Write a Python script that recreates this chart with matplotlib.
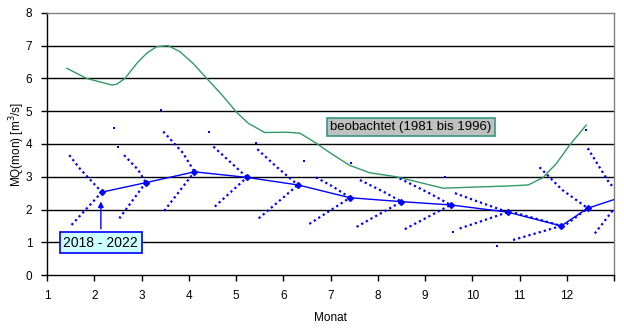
import matplotlib
matplotlib.use("Agg")
import matplotlib.pyplot as plt

plt.rcParams['font.family'] = ['Liberation Sans', 'DejaVu Sans']

# observed long-term monthly mean (green)
obs_x = [1.42, 1.84, 2.37, 2.47, 2.65, 2.9, 3.11, 3.32, 3.56, 3.81, 4.09, 4.38, 4.7, 5.01,
         5.26, 5.61, 6.07, 6.35, 6.70, 7.02, 7.40, 7.83, 8.39, 8.96, 9.38, 9.94, 10.37,
         10.79, 11.18, 11.49, 11.78, 12.06, 12.41]
obs_y = [6.31, 6.0, 5.8, 5.82, 6.0, 6.46, 6.77, 6.97, 7.0, 6.82, 6.46, 6.0, 5.5, 4.97,
         4.63, 4.35, 4.36, 4.33, 4.02, 3.70, 3.35, 3.12, 3.0, 2.8, 2.65, 2.68, 2.7,
         2.72, 2.75, 2.97, 3.41, 3.97, 4.58]

# 2018 - 2022 monthly means (blue)
mon_x = [2.16, 3.09, 4.12, 5.23, 6.31, 7.41, 8.5, 9.54, 10.75, 11.88, 12.44, 13.2]
mon_y = [2.53, 2.82, 3.15, 2.98, 2.75, 2.36, 2.24, 2.14, 1.92, 1.5, 2.04, 2.4]

# spread arms for each month (upper start, upper bend, lower start)
up_x = [1.47, 2.63, 3.46, 4.52, 5.45, 6.69, 7.62, 8.46, 9.63, 10.9, 11.42, 12.44]
up_y = [3.66, 3.66, 4.38, 3.92, 3.84, 2.98, 2.90, 2.95, 2.50, 1.90, 3.29, 3.87]
bend_x = [1.70, 2.93, 3.88, 4.87, 5.89, 7.05, 8.15, 9.10, 10.1, 11.4, 11.9, 12.9]
bend_y = [3.24, 3.21, 3.72, 3.46, 3.26, 2.70, 2.52, 2.49, 2.25, 1.70, 2.60, 2.80]
low_x = [1.52, 2.53, 3.48, 4.55, 5.48, 6.55, 7.55, 8.57, 9.73, 10.86, 11.9, 12.59]
low_y = [1.53, 1.73, 1.96, 2.09, 1.73, 1.56, 1.47, 1.40, 1.42, 1.07, 1.45, 1.27]

# isolated values
iso_x = [2.42, 2.51, 3.41, 4.42, 5.43, 6.44, 7.44, 9.41, 9.59, 10.53, 12.41]
iso_y = [4.48, 3.92, 5.04, 4.38, 4.02, 3.48, 3.41, 3.0, 1.32, 0.89, 4.43]

x_ticks = list(range(1, 13))
y_ticks = list(range(0, 9))

BLUE = '#0000FF'
GREEN = '#339966'

fig = plt.figure(figsize=(6.24, 3.31), dpi=100)
ax = fig.add_axes([0.0753, 0.169, 0.909, 0.792])
ax.set_xlim(1, 13)
ax.set_ylim(0, 8)

for yv in y_ticks[1:-1]:
    ax.axhline(yv, color='black', lw=1.0, zorder=1)

ax.plot(obs_x, obs_y, color=GREEN, lw=1.0, zorder=3)

dot = (0, (1, 1.4))
for i in range(len(mon_x)):
    ax.plot([up_x[i], bend_x[i], mon_x[i]], [up_y[i], bend_y[i], mon_y[i]],
            color=BLUE, lw=1.6, ls=dot, zorder=4)
    ax.plot([low_x[i], mon_x[i]], [low_y[i], mon_y[i]],
            color=BLUE, lw=1.6, ls=dot, zorder=4)

ax.plot(mon_x, mon_y, color=BLUE, lw=1.0, marker='D', ms=3, zorder=5)
ax.scatter(iso_x, iso_y, s=4, marker='s', color=BLUE, zorder=4, linewidths=0)

ax.annotate('2018 - 2022', xy=(2.14, 2.33), xytext=(2.14, 0.99),
            ha='center', va='center', fontsize=10, color='black',
            bbox=dict(boxstyle='square,pad=0.25', fc='#CCFFFF', ec=BLUE, lw=1.2),
            arrowprops=dict(arrowstyle='-|>', color=BLUE, lw=1.0, mutation_scale=8),
            zorder=6)

ax.text(8.70, 4.52, 'beobachtet (1981 bis 1996)', ha='center', va='center',
        fontsize=9.5, color='black', zorder=6,
        bbox=dict(boxstyle='square,pad=0.25', fc='#C0C0C0', ec='#339980', lw=1.2))

ax.set_xticks(x_ticks + [13])
ax.set_xticklabels([str(v) for v in x_ticks] + [''])
ax.set_yticks(y_ticks)
ax.tick_params(axis='both', direction='out', length=4, width=1, labelsize=8.5, color='black')
ax.tick_params(axis='x', pad=7)
ax.tick_params(axis='y', pad=6.5)

for s in ['left', 'bottom']:
    ax.spines[s].set_color('black')
    ax.spines[s].set_linewidth(1.0)
for s in ['top', 'right']:
    ax.spines[s].set_color('#808080')
    ax.spines[s].set_linewidth(1.0)

ax.set_xlabel('Monat', fontsize=8.5)
ax.set_ylabel('MQ(mon) [m$^3$/s]', fontsize=8.5)
ax.yaxis.set_label_coords(-0.036, 0.5)
ax.xaxis.set_label_coords(0.5, -0.14)

fig.savefig('out.png', dpi=100)
